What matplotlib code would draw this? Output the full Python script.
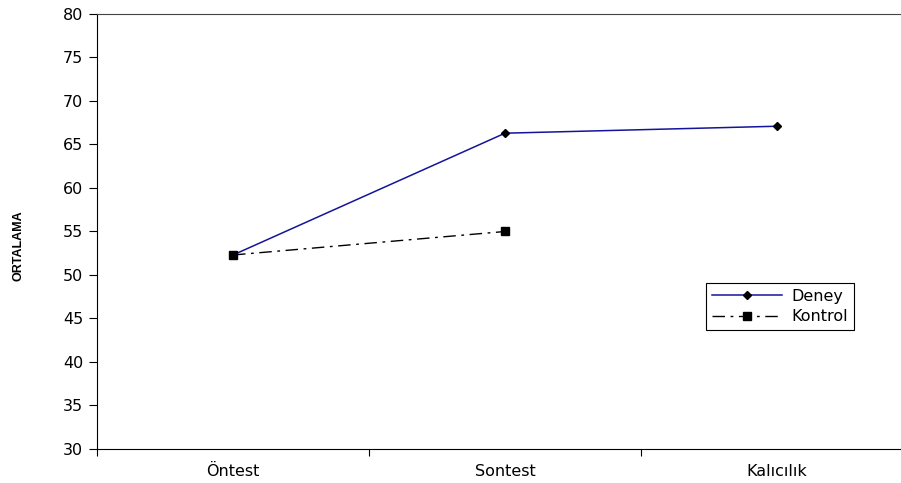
import matplotlib
matplotlib.use('Agg')
import matplotlib.pyplot as plt
from matplotlib.ticker import FixedLocator

plt.rcParams['font.family'] = ['DejaVu Sans']

# ortalama puanlar
olcumler = ['Öntest', 'Sontest', 'Kalıcılık']
deney = [52.3, 66.3, 67.1]
kontrol = [52.3, 55.0]

fig = plt.figure(figsize=(9.01, 4.83), dpi=100)
# grafik alani sag kenardan biraz tasiyor
ax = fig.add_axes([97/901, 34/483, 816/901, 435/483])

ax.plot(range(len(deney)), deney, color='#14149a', lw=1.1,
        marker='D', ms=4.5, mfc='black', mec='black', label='Deney')
ax.plot(range(len(kontrol)), kontrol, color='black', lw=1.0,
        linestyle=(0, (9, 4, 2, 4)), marker='s', ms=5.5,
        mfc='black', mec='black', label='Kontrol')

ax.set_xlim(-0.5, 2.5)
ax.set_ylim(30, 80)
ax.set_yticks(range(30, 81, 5))
ax.set_xticks(range(len(olcumler)))
ax.set_xticklabels(olcumler)
ax.xaxis.set_minor_locator(FixedLocator([-0.5, 0.5, 1.5, 2.5]))
ax.tick_params(axis='x', which='major', length=0, pad=11, labelsize=11.5)
ax.tick_params(axis='x', which='minor', length=5, direction='out', width=0.8)
ax.tick_params(axis='y', length=6, width=0.8, direction='out', pad=4, labelsize=11.5)

ax.spines['right'].set_visible(False)
ax.spines['top'].set_color('#444444')
for s in ['left', 'bottom', 'top']:
    ax.spines[s].set_linewidth(0.8)

fig.text(18/901, 237/483, 'ORTALAMA', rotation=90, ha='center', va='center',
         fontsize=9, fontweight='bold', family='Liberation Sans')

leg = ax.legend(loc='upper left', bbox_to_anchor=((706-97)/816, (449-283)/435),
                frameon=True, fancybox=False, framealpha=1, edgecolor='black',
                fontsize=11.5, handlelength=4.4, borderpad=0.35, labelspacing=0.35,
                handletextpad=0.6, borderaxespad=0)
leg.get_frame().set_linewidth(0.8)

fig.savefig('out.png', dpi=100)
